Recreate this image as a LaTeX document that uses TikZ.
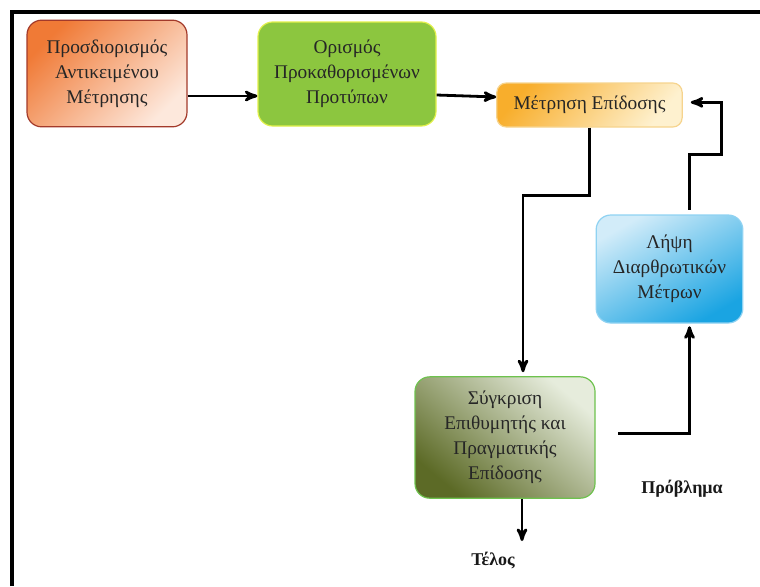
\documentclass[tikz,border=0pt]{standalone}
\usepackage{fontspec}
\setmainfont{Liberation Serif}
\usetikzlibrary{arrows,shapes}
\definecolor{ordark}{HTML}{F07A36}
\definecolor{orlight}{HTML}{FDE8DC}
\definecolor{orbord}{HTML}{A33A2A}
\definecolor{grfill}{HTML}{8CC63F}
\definecolor{grbord}{HTML}{E2F04A}
\definecolor{ydark}{HTML}{F8AE2C}
\definecolor{ylight}{HTML}{FEF1CF}
\definecolor{ybord}{HTML}{F6D48E}
\definecolor{bllight}{HTML}{D2ECF9}
\definecolor{bldark}{HTML}{1AA4E2}
\definecolor{blbord}{HTML}{8FD2F2}
\definecolor{oldark}{HTML}{5C6A26}
\definecolor{ollight}{HTML}{E6ECDC}
\definecolor{olbord}{HTML}{6EC24E}
\tikzstyle{bx} = [rectangle, draw, rounded corners=11pt, align=center,
    inner sep=0pt, text=black!85, line width=0.9pt,
    font=\fontsize{14.5}{18.75}\selectfont]
\tikzstyle{lbl} = [font=\fontsize{13.5}{15}\selectfont\bfseries, text=black!90]

\begin{document}
\begin{tikzpicture}[x=0.75pt,y=-0.75pt,->,>=stealth',line width=2.1pt]
  \useasboundingbox (0,0) rectangle (760,586);
  % frame (top and left edge)
  \draw[-,line width=3pt] (11.5,586) -- (11.5,12) -- (760,12);

  \node[bx, draw=orbord, top color=ordark, bottom color=orlight, shading angle=45,
        minimum width=120pt, minimum height=80pt] (obj) at (107,73.5)
        {Προσδιορισμός\\Αντικειμένου\\Μέτρησης};
  \node[bx, draw=grbord, fill=grfill, minimum width=133.5pt, minimum height=78pt]
        (std) at (347,74) {Ορισμός\\Προκαθορισμένων\\Προτύπων};
  \node[bx, draw=ybord, top color=ydark, bottom color=ylight, shading angle=50,
        rounded corners=7pt, minimum width=139pt, minimum height=33pt]
        (meas) at (589.5,105) {Μέτρηση Επίδοσης};
  \node[bx, draw=blbord, top color=bllight, bottom color=bldark, shading angle=30,
        minimum width=110pt, minimum height=81pt] (act) at (669.5,269)
        {Λήψη\\Διαρθρωτικών\\Μέτρων};
  \node[bx, draw=olbord, top color=ollight, bottom color=oldark, shading angle=-40,
        minimum width=135pt, minimum height=91pt] (cmp) at (505,437.5)
        {Σύγκριση\\Επιθυμητής και\\Πραγματικής\\Επίδοσης};

  \node[lbl] (prob) at (682,489) {Πρόβλημα};
  \node[lbl] (end) at (493,561) {Τέλος};
  \coordinate (endpt) at (522,541);

  \draw (obj.east |- 0,96) -- (std.west |- 0,96);
  \draw (std.east |- 0,95) -- (meas.west |- 0,97);
  \draw (meas.south) -- ++(0,68) -| ([xshift=13.5pt,yshift=3pt]cmp.north);
  \draw ([xshift=17pt,yshift=3pt]cmp.east) -| ([xshift=15pt,yshift=-2pt]act.south);
  \draw ([xshift=15pt,yshift=3.5pt]act.north) -- ++(0,-55) -- ++(32,0)
        |- ([xshift=6pt,yshift=2pt]meas.east);
  \draw ([xshift=12.75pt]cmp.south) -- (endpt);
\end{tikzpicture}
\end{document}
